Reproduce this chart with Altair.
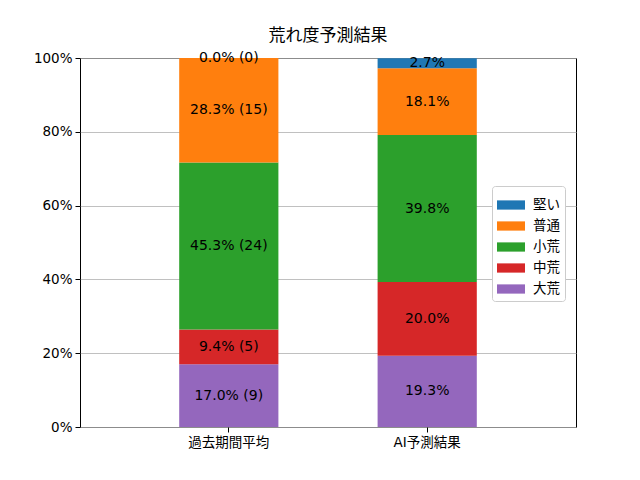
import altair as alt
import pandas as pd

categories = ["過去期間平均", "AI予測結果"]
classes = ["大荒", "中荒", "小荒", "普通", "堅い"]
past_pct = [17.0, 9.4, 45.3, 28.3, 0.0]
past_cnt = [9, 5, 24, 15, 0]
ai_pct = [19.3, 20.0, 39.8, 18.1, 2.7]

legend_order = ["堅い", "普通", "小荒", "中荒", "大荒"]
legend_colors = ["#1f77b4", "#ff7f0e", "#2ca02c", "#d62728", "#9467bd"]

rows = []
for i, c in enumerate(classes):
    rows.append({"cat": categories[0], "cls": c, "order": i, "value": past_pct[i],
                 "label": f"{past_pct[i]:.1f}% ({past_cnt[i]})"})
for i, c in enumerate(classes):
    rows.append({"cat": categories[1], "cls": c, "order": i, "value": ai_pct[i],
                 "label": f"{ai_pct[i]:.1f}%"})
df = pd.DataFrame(rows)

FONT = "DejaVu Sans, Noto Sans CJK JP"

x = alt.X("cat:N", sort=categories, title=None,
          scale=alt.Scale(paddingInner=0.5, paddingOuter=0.5),
          axis=alt.Axis(labelAngle=0, labelFontSize=13.5, labelColor="black",
                        tickColor="black", tickSize=5, domain=False, grid=False,
                        labelPadding=3))

bars = alt.Chart(df).mark_bar().encode(
    x=x,
    y=alt.Y("value:Q", stack="zero", title=None,
            scale=alt.Scale(domain=[0, 100], nice=False),
            axis=alt.Axis(values=[0, 20, 40, 60, 80, 100], labelExpr="datum.value + '%'",
                          labelFontSize=13.5, labelColor="black", tickColor="black",
                          tickSize=5, domain=False, grid=True, gridColor="#b0b0b0",
                          gridWidth=0.8, labelPadding=3)),
    color=alt.Color("cls:N", scale=alt.Scale(domain=legend_order, range=legend_colors),
                    legend=alt.Legend(title=None, orient="none", legendX=412, legendY=128,
                                      labelFontSize=13.5, labelFont=FONT,
                                      labelExpr="datum.label + '  '",
                                      symbolType="M-1,-0.33L1,-0.33L1,0.33L-1,0.33Z",
                                      symbolSize=784, symbolStrokeWidth=0, symbolOpacity=1,
                                      strokeColor="#cccccc", fillColor="white",
                                      padding=5, cornerRadius=3, rowPadding=0,
                                      labelOffset=8)),
    order=alt.Order("order:Q", sort="ascending"),
)

text = alt.Chart(df).transform_window(
    cum="sum(value)", sort=[alt.SortField("order", order="ascending")],
    groupby=["cat"], frame=[None, 0]
).transform_calculate(
    mid="datum.cum - datum.value / 2"
).mark_text(fontSize=14, color="black", font=FONT).encode(
    x=alt.X("cat:N", sort=categories),
    y=alt.Y("mid:Q"),
    text="label:N",
)

chart = (bars + text).properties(
    width=496, height=369,
    title=alt.TitleParams("荒れ度予測結果", fontSize=17, fontWeight="normal",
                          font=FONT, offset=6, color="black"),
    autosize=alt.AutoSizeParams(type="none"),
    padding={"left": 72, "top": 50, "right": 56, "bottom": 45},
).configure(font=FONT, view=alt.ViewConfig(stroke="black", strokeWidth=1))

chart.save("out.html", embed_options={"renderer": "svg", "actions": False})
